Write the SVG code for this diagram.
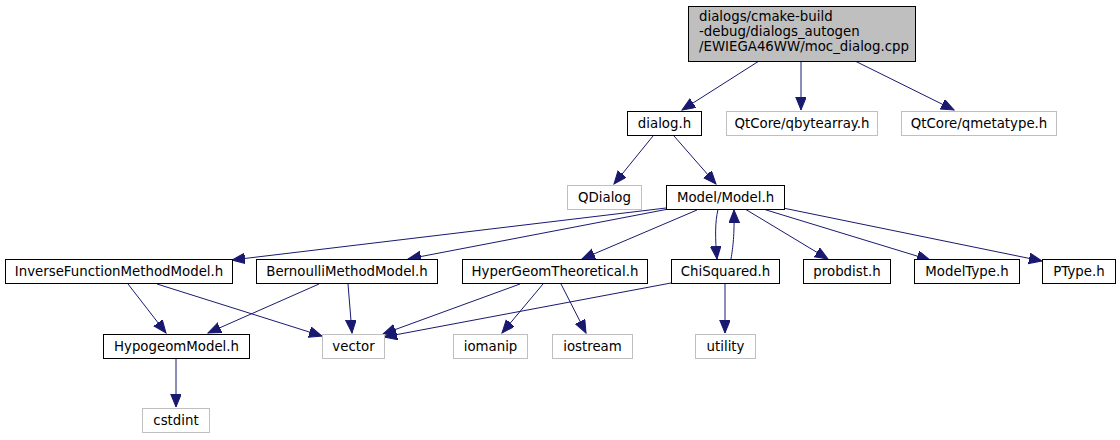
<svg xmlns="http://www.w3.org/2000/svg" width="1120" height="440" viewBox="0 0 1120 440">
<style>
.n rect{fill:#fff;stroke:#000;stroke-width:1}
.g rect{fill:#fff;stroke:#bfbfbf;stroke-width:1}
.root rect{fill:#bfbfbf;stroke:#000;stroke-width:1}
text{font-family:"DejaVu Sans","Liberation Sans",sans-serif;font-size:13.33px;fill:#000}
.c{text-anchor:middle}
#edges path{fill:none;stroke:#191970;stroke-width:1;marker-end:url(#ah)}
</style>
<defs>
<marker id="ah" markerUnits="userSpaceOnUse" markerWidth="14" markerHeight="12" refX="13" refY="5.3" orient="auto">
<path d="M0,0 L13,5.3 L0,10.6 Z" fill="#191970" stroke="#191970" stroke-width="1"/>
</marker>
</defs>
<rect width="1120" height="440" fill="#fff"/>
<g id="edges">
<path d="M759,61 L682,110"/>
<path d="M801,61 L801,110"/>
<path d="M855,61 L954,110"/>
<path d="M653,136 L614,184"/>
<path d="M674,136 L716,184"/>
<path d="M666,208 L232,260"/>
<path d="M666,209.5 L408,259"/>
<path d="M697,210 L582,259"/>
<path d="M718,209.5 C715,222 715,238 717,259"/>
<path d="M731,259 C733,247 734.5,235 734,210"/>
<path d="M745,209 L828,259"/>
<path d="M763,209 L930,260"/>
<path d="M783,208 L1042,261"/>
<path d="M128,284 L166,333"/>
<path d="M157,284 L322,336"/>
<path d="M319,284 L208,333"/>
<path d="M348,284 L352,333"/>
<path d="M520,284 L383,334"/>
<path d="M543,284 L502,333"/>
<path d="M561,284 L586,333"/>
<path d="M671,283 L384,337"/>
<path d="M725,284 L725,333"/>
<path d="M176,359 L176,407"/>
</g>
<g id="node_root" class="root"><rect x="688.5" y="6.5" width="227" height="55"/>
<text x="699" y="20.5">dialogs/cmake-build</text><text x="699" y="35.5">-debug/dialogs_autogen</text><text x="699" y="50.5">/EWIEGA46WW/moc_dialog.cpp</text></g>
<g id="node_dialog" class="n"><rect x="627.5" y="111.5" width="74" height="24"/><text class="c" x="664.5" y="127.5">dialog.h</text></g>
<g id="node_qbytearray" class="g"><rect x="726.5" y="111.5" width="151" height="24"/><text class="c" x="802" y="127.5">QtCore/qbytearray.h</text></g>
<g id="node_qmetatype" class="g"><rect x="901.5" y="111.5" width="155" height="24"/><text class="c" x="979" y="127.5">QtCore/qmetatype.h</text></g>
<g id="node_qdialog" class="g"><rect x="567.5" y="185.5" width="74" height="24"/><text class="c" x="604.5" y="201.5">QDialog</text></g>
<g id="node_model" class="n"><rect x="666.5" y="185.5" width="118" height="24"/><text class="c" x="725.5" y="201.5">Model/Model.h</text></g>
<g id="node_inverse" class="n"><rect x="5.5" y="259.5" width="227" height="24"/><text class="c" x="119" y="275.5">InverseFunctionMethodModel.h</text></g>
<g id="node_bernoulli" class="n"><rect x="256.5" y="259.5" width="181" height="24"/><text class="c" x="347" y="275.5">BernoulliMethodModel.h</text></g>
<g id="node_hyper" class="n"><rect x="462.5" y="259.5" width="185" height="24"/><text class="c" x="555" y="275.5">HyperGeomTheoretical.h</text></g>
<g id="node_chi" class="n"><rect x="671.5" y="259.5" width="108" height="24"/><text class="c" x="725.5" y="275.5">ChiSquared.h</text></g>
<g id="node_probdist" class="n"><rect x="803.5" y="259.5" width="87" height="24"/><text class="c" x="847" y="275.5">probdist.h</text></g>
<g id="node_modeltype" class="n"><rect x="914.5" y="259.5" width="105" height="24"/><text class="c" x="967" y="275.5">ModelType.h</text></g>
<g id="node_ptype" class="n"><rect x="1042.5" y="259.5" width="73" height="24"/><text class="c" x="1079" y="275.5">PType.h</text></g>
<g id="node_hypogeom" class="n"><rect x="103.5" y="334.5" width="146" height="24"/><text class="c" x="176.5" y="350.5">HypogeomModel.h</text></g>
<g id="node_vector" class="g"><rect x="322.5" y="334.5" width="62" height="24"/><text class="c" x="353.5" y="350.5">vector</text></g>
<g id="node_iomanip" class="g"><rect x="453.5" y="334.5" width="74" height="24"/><text class="c" x="490.5" y="350.5">iomanip</text></g>
<g id="node_iostream" class="g"><rect x="552.5" y="334.5" width="80" height="24"/><text class="c" x="592.5" y="350.5">iostream</text></g>
<g id="node_utility" class="g"><rect x="695.5" y="334.5" width="60" height="24"/><text class="c" x="725.5" y="350.5">utility</text></g>
<g id="node_cstdint" class="g"><rect x="142.5" y="408.5" width="67" height="24"/><text class="c" x="176" y="424.5">cstdint</text></g>
</svg>
